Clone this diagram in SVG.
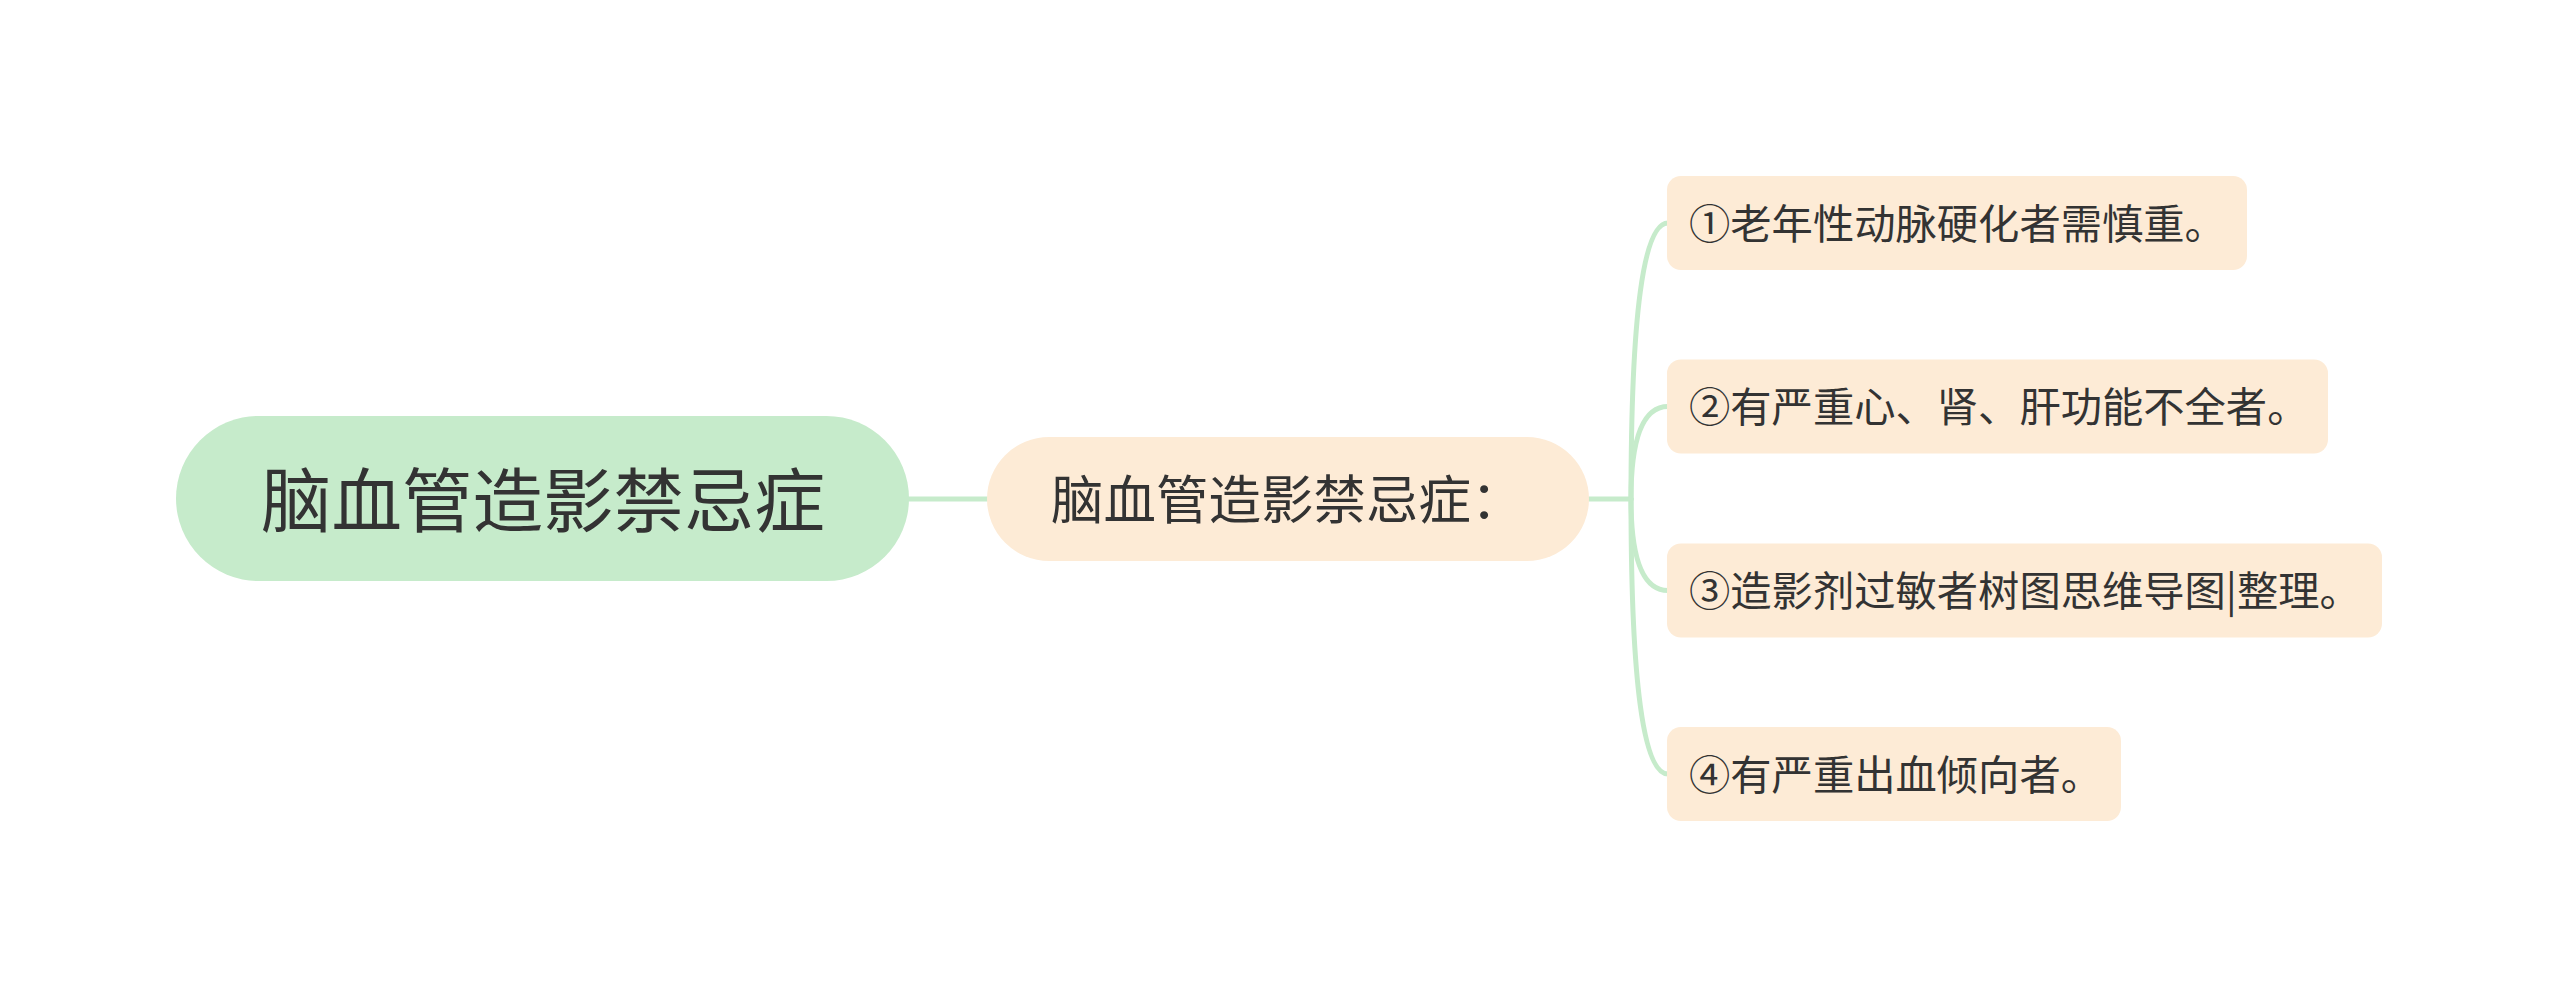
<svg xmlns="http://www.w3.org/2000/svg" width="2560" height="999" viewBox="0 0 2560 999">
<style>
.t{font-family:"Noto Sans CJK SC","Noto Sans",sans-serif;fill:#333333}
.root{fill:#c6ebcb}
.sub{fill:#fdebd6}
.c{fill:none;stroke:#c6ebcb;stroke-width:5;stroke-linecap:round}
</style>
<rect width="2560" height="999" fill="#ffffff"/>
<g id="connectors">
<path class="c" d="M909,499 L987,499"/>
<path class="c" d="M1589,499 L1631,499"/>
<path class="c" d="M1631,499 Q1631,223 1668,223"/>
<path class="c" d="M1631,499 Q1631,406.5 1668,406.5"/>
<path class="c" d="M1631,499 Q1631,590.5 1668,590.5"/>
<path class="c" d="M1631,499 Q1631,774 1668,774"/>
</g>
<g id="root">
<rect class="root" x="176" y="416" width="733" height="165" rx="82.5"/>
<text class="t" x="261" y="527" font-size="70.5">脑血管造影禁忌症</text>
</g>
<g id="mid">
<rect class="sub" x="987" y="437" width="602" height="124" rx="62"/>
<text class="t" x="1051" y="519" font-size="52.5">脑血管造影禁忌症：</text>
</g>
<g id="leaf1">
<rect class="sub" x="1667" y="176" width="580" height="94" rx="14"/>
<text class="t" x="1689" y="238.5" font-size="41.3">①老年性动脉硬化者需慎重。</text>
</g>
<g id="leaf2">
<rect class="sub" x="1667" y="359.5" width="661" height="94" rx="14"/>
<text class="t" x="1689" y="422" font-size="41.3">②有严重心、肾、肝功能不全者。</text>
</g>
<g id="leaf3">
<rect class="sub" x="1667" y="543.5" width="715" height="94" rx="14"/>
<text class="t" x="1689" y="606" font-size="41.3">③造影剂过敏者树图思维导图|整理。</text>
</g>
<g id="leaf4">
<rect class="sub" x="1667" y="727" width="454" height="94" rx="14"/>
<text class="t" x="1689" y="789.5" font-size="41.3">④有严重出血倾向者。</text>
</g>
</svg>
